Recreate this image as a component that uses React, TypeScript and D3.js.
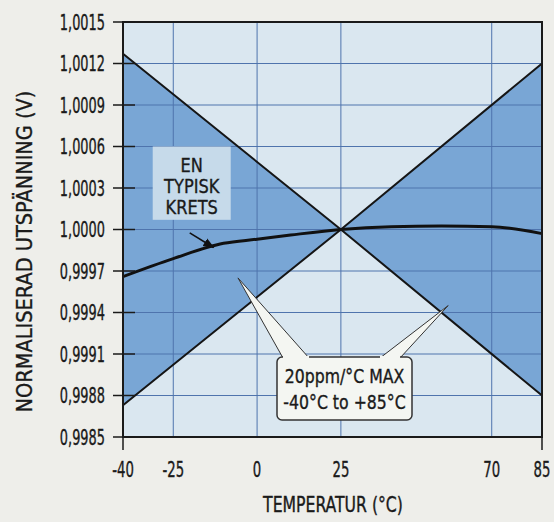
import React from "react";
import * as d3 from "d3";

// temperature (°C) and normalised output voltage (V)
const limitTemps = [-40, 25, 85];
const upperLimit = [1.00127, 1.0, 1.0012];
const lowerLimit = [0.99873, 1.0, 0.9988];

const typicalTemps = [-40, -25, -10, 0, 10, 25, 40, 55, 70, 85];
const typicalValues = [0.99966, 0.99979, 0.9999, 0.99993, 0.99996, 1.0, 1.00002, 1.000025, 1.00002, 0.99997];

const xTicks = [-40, -25, 0, 25, 70, 85];
const xGrid = [-25, 0, 25, 70];
const yTicks = [0.9985, 0.9988, 0.9991, 0.9994, 0.9997, 1.0, 1.0003, 1.0006, 1.0009, 1.0012, 1.0015];

const FONT = "'DejaVu Sans Condensed', 'DejaVu Sans', sans-serif";
const INK = "#1a1a1a";

// narrow text: the original uses a condensed face, so squeeze horizontally
function NText(props: {
  x: number;
  y: number;
  size: number;
  sx: number;
  anchor?: string;
  rotate?: number;
  children: React.ReactNode;
}) {
  const rot = props.rotate ? ` rotate(${props.rotate})` : "";
  return (
    <text
      transform={`translate(${props.x},${props.y})${rot} scale(${props.sx},1)`}
      fontSize={props.size}
      textAnchor={props.anchor || "middle"}
      fill={INK}
      stroke={INK}
      strokeWidth={0.35}
    >
      {props.children}
    </text>
  );
}

export default function App() {
  const width = 554;
  const height = 522;
  const margin = { top: 22, right: 12, bottom: 85, left: 123 };

  const x = d3.scaleLinear().domain([-40, 85]).range([margin.left, width - margin.right]);
  const y = d3.scaleLinear().domain([0.9985, 1.0015]).range([height - margin.bottom, margin.top]);

  const lineGen = d3
    .line<[number, number]>()
    .x((d) => x(d[0]))
    .y((d) => y(d[1]));

  const upper = limitTemps.map((t, i) => [t, upperLimit[i]] as [number, number]);
  const lower = limitTemps.map((t, i) => [t, lowerLimit[i]] as [number, number]);

  // bow-tie shaped band between the limit lines
  const leftWedge = lineGen([upper[0], upper[1], lower[0]]) + "Z";
  const rightWedge = lineGen([upper[2], upper[1], lower[2]]) + "Z";

  const typical = d3
    .line<number>()
    .x((d, i) => x(typicalTemps[i]))
    .y((d) => y(d))
    .curve(d3.curveMonotoneX)(typicalValues);

  const fmt = (v: number) => v.toFixed(4).replace(".", ",");

  // callout box with two pointers
  const box = { x0: 277, x1: 412, y0: 357, y1: 420 };
  const ptrL = [x(-5.7), y(0.99965)];
  const ptrR = [x(57), y(0.99945)];

  // "EN TYPISK KRETS" label
  const lbl = { cx: x(-19.5), top: y(1.0006), bottom: y(1.00007) };

  const plotTop = y(1.0015);
  const plotBottom = y(0.9985);

  return (
    <svg
      width={width}
      height={height}
      style={{ position: "absolute", left: 0, top: 0, fontFamily: FONT }}
    >
      <defs>
        <marker id="arr" viewBox="0 0 10 10" refX="9" refY="5" markerWidth="7" markerHeight="7" orient="auto">
          <path d="M0,1 L10,5 L0,9 Z" fill="#111" />
        </marker>
      </defs>
      <rect width={width} height={height} fill="#eeeeea" />

      {/* plot background */}
      <rect x={x(-40)} y={plotTop} width={x(85) - x(-40)} height={plotBottom - plotTop} fill="#dae7f0" />
      <path d={leftWedge} fill="#79a6d5" />
      <path d={rightWedge} fill="#79a6d5" />

      {/* grid */}
      {yTicks.slice(1, -1).map((v) => (
        <line key={"h" + v} x1={x(-40)} x2={x(85)} y1={y(v)} y2={y(v)} stroke="#4f74ad" strokeWidth={1} />
      ))}
      {xGrid.map((t) => (
        <line key={"v" + t} x1={x(t)} x2={x(t)} y1={plotTop} y2={plotBottom} stroke="#4f74ad" strokeWidth={1} />
      ))}

      {/* label background */}
      <rect x={lbl.cx - 39} y={lbl.top} width={78} height={lbl.bottom - lbl.top} fill="#c6daea" />
      <NText x={lbl.cx} y={lbl.top + 25} size={20} sx={0.9}>EN</NText>
      <NText x={lbl.cx} y={lbl.top + 46} size={20} sx={0.9}>TYPISK</NText>
      <NText x={lbl.cx} y={lbl.top + 67} size={20} sx={0.9}>KRETS</NText>
      <line x1={lbl.cx - 2} y1={lbl.bottom + 13} x2={x(-13)} y2={y(0.99987)} stroke="#111" strokeWidth={1.6} markerEnd="url(#arr)" />

      {/* limit lines */}
      <path d={lineGen(upper) || ""} fill="none" stroke="#151515" strokeWidth={2} />
      <path d={lineGen(lower) || ""} fill="none" stroke="#151515" strokeWidth={2} />

      {/* typical curve */}
      <path d={typical || ""} fill="none" stroke="#111" strokeWidth={3} />

      {/* callout */}
      <path
        d={`M${box.x0 + 6},${box.y0 + 1} L${ptrL[0]},${ptrL[1]} L${box.x0 + 32},${box.y0 + 1} Z`}
        fill="#f4f6f2"
        stroke="#333"
        strokeWidth={1}
      />
      <path
        d={`M${box.x1 - 32},${box.y0 + 1} L${ptrR[0]},${ptrR[1]} L${box.x1 - 12},${box.y0 + 1} Z`}
        fill="#f4f6f2"
        stroke="#333"
        strokeWidth={1}
      />
      <rect
        x={box.x0}
        y={box.y0}
        width={box.x1 - box.x0}
        height={box.y1 - box.y0}
        rx={5}
        fill="#f4f6f2"
        stroke="#333"
        strokeWidth={1.5}
      />
      <rect x={box.x0 + 6} y={box.y0 - 1} width={26} height={4} fill="#f4f6f2" />
      <rect x={box.x1 - 32} y={box.y0 - 1} width={20} height={4} fill="#f4f6f2" />
      <NText x={(box.x0 + box.x1) / 2} y={box.y0 + 26} size={19} sx={0.92}>20ppm/°C MAX</NText>
      <NText x={(box.x0 + box.x1) / 2} y={box.y0 + 52} size={19} sx={0.92}>-40°C to +85°C</NText>

      {/* frame */}
      <rect
        x={x(-40)}
        y={plotTop}
        width={x(85) - x(-40)}
        height={plotBottom - plotTop}
        fill="none"
        stroke={INK}
        strokeWidth={2}
      />

      {/* y axis */}
      {yTicks.map((v) => (
        <g key={"yt" + v}>
          <line x1={x(-40) - 10} x2={x(-40) + 12} y1={y(v)} y2={y(v)} stroke={INK} strokeWidth={1.5} />
          <NText x={x(-40) - 18} y={y(v) + 7.5} size={20.5} sx={0.7} anchor="end">
            {fmt(v)}
          </NText>
        </g>
      ))}

      {/* x axis */}
      <line x1={x(-40)} x2={x(-40)} y1={plotBottom} y2={plotBottom + 13} stroke={INK} strokeWidth={1.5} />
      <line x1={x(85)} x2={x(85)} y1={plotBottom} y2={plotBottom + 13} stroke={INK} strokeWidth={1.5} />
      {xTicks.map((t) => (
        <NText key={"xt" + t} x={x(t)} y={plotBottom + 40} size={20.5} sx={0.72}>
          {t}
        </NText>
      ))}

      <NText x={333} y={512} size={20.5} sx={0.85}>TEMPERATUR (°C)</NText>
      <NText x={32} y={(plotTop + plotBottom) / 2 + 22} size={22} sx={0.98} rotate={-90}>
        NORMALISERAD UTSPÄNNING (V)
      </NText>
    </svg>
  );
}
